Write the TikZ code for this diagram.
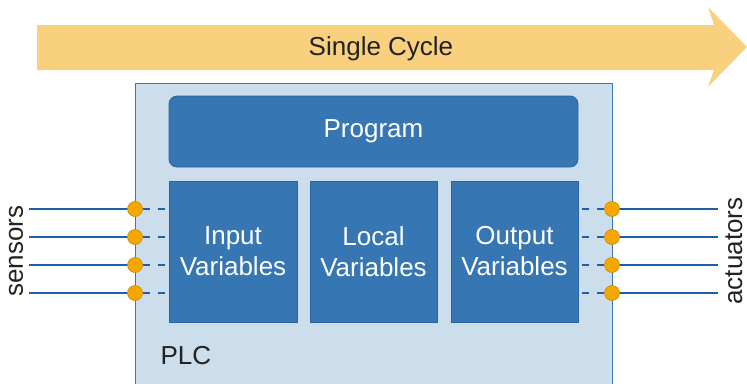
\documentclass[tikz,border=0pt]{standalone}
\usepackage{fontspec}
\setmainfont{Liberation Sans}
\usetikzlibrary{positioning}

\definecolor{cyclefill}{HTML}{F9D07E}
\definecolor{plcfill}{HTML}{CCDDEB}
\definecolor{plcline}{HTML}{3A78B5}
\definecolor{varfill}{HTML}{3576B3}
\definecolor{varline}{HTML}{2A65A0}
\definecolor{wire}{HTML}{1F5EA8}
\definecolor{portfill}{HTML}{F5A700}
\definecolor{portline}{HTML}{C78A10}
\definecolor{darktext}{HTML}{222222}

\tikzset{
    bigfont/.style={font=\fontsize{26}{31}\selectfont},
    plcbox/.style={draw=plcline, fill=plcfill, line width=1pt, inner sep=0pt},
    varbox/.style={draw=varline, fill=varfill, line width=0.8pt, text=white,
        bigfont, align=center, inner sep=0pt, outer sep=0pt},
    port/.style={circle, draw=portline, fill=portfill, line width=0.6pt,
        minimum size=15pt, inner sep=0pt},
    wireline/.style={wire, line width=2pt},
    stub/.style={wire, line width=2pt, dash pattern=on 7pt off 8pt}
}

\begin{document}
\begin{tikzpicture}[x=1pt, y=-1pt]

    \useasboundingbox (0,0) rectangle (747,383);

    % cycle arrow
    \fill[cyclefill] (37,25) -- (714,25) -- (708,7) -- (747,47)
        -- (708,87) -- (714,70) -- (37,70) -- cycle;
    \node[bigfont, text=darktext, anchor=base] (cycle) at (381,55) {Single Cycle};

    % plc
    \node[plcbox, anchor=north west, minimum width=477pt, minimum height=330pt]
        (plc) at (135,83) {};
    \node[bigfont, text=darktext, anchor=base west] (plclabel) at (157,364) {PLC};

    \node[varbox, rounded corners=8pt, anchor=north west,
        minimum width=409pt, minimum height=71pt] (prog) at (169,96) {Program};

    \node[varbox, anchor=north west, minimum width=128pt, minimum height=141pt]
        (inp) at ([yshift=-14pt]prog.south west) {Input\\Variables};
    \node[varbox, right=13pt of inp, minimum width=127pt, minimum height=141pt]
        (loc) {Local\\Variables};
    \node[varbox, right=14pt of loc, minimum width=127pt, minimum height=141pt]
        (outp) {Output\\Variables};

    % sensors and actuators
    \foreach \y [count=\i] in {209,237,265,293} {
        \coordinate (s\i) at (29,\y);
        \coordinate (a\i) at (718,\y);
        \draw[wireline] (s\i) -- (135,\y);
        \draw[wireline] (612,\y) -- (a\i);
        \node[port] (pi\i) at (135,\y) {};
        \node[port] (po\i) at (612,\y) {};
        \draw[stub] (pi\i.east) -- (inp.west |- pi\i);
        \draw[stub] (po\i.west) -- (outp.east |- po\i);
    }

    \node[bigfont, text=darktext, rotate=90, anchor=base] (sens) at (23,251) {sensors};
    \node[bigfont, text=darktext, rotate=90, anchor=base] (act) at (742,251) {actuators};

\end{tikzpicture}
\end{document}
